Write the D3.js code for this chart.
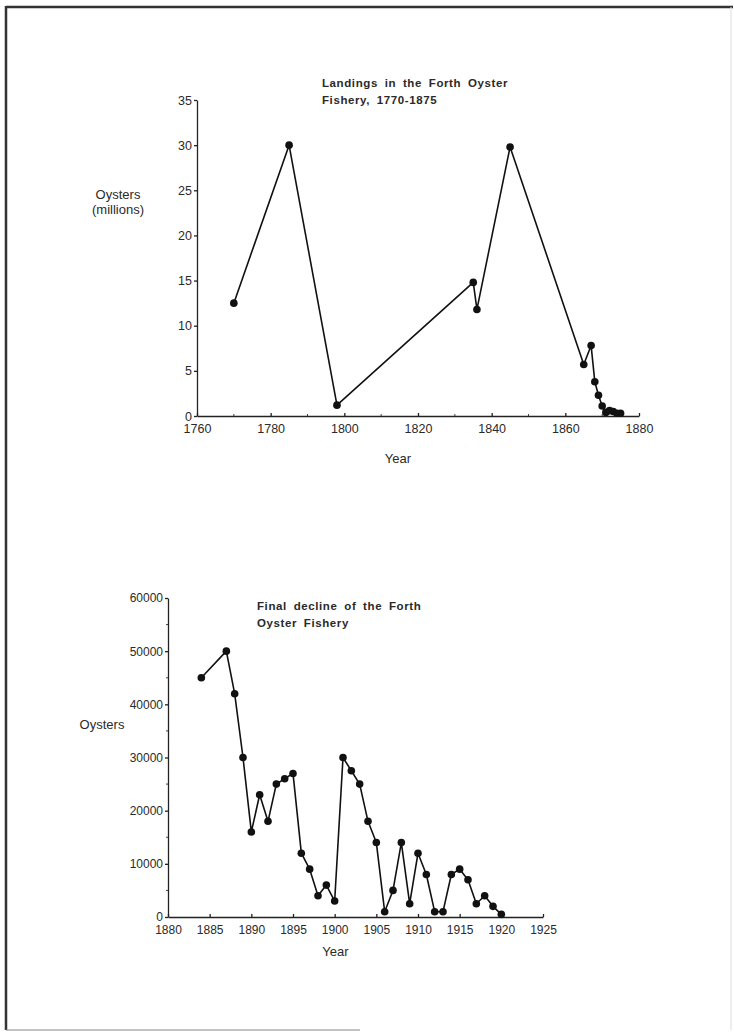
<!DOCTYPE html>
<html lang="en">
  <head>
    <meta charset="UTF-8" />
    <title>Forth Oyster Fishery</title>
    <script src="https://d3js.org/d3.v7.min.js"></script>
    <style>
      body {
        margin: 0;
        background: #fff;
      }
      svg text {
        font-family: "Liberation Sans", Arial, sans-serif;
        fill: #2a2a2a;
      }
      .title {
        font-weight: bold;
        font-size: 11.5px;
        letter-spacing: 0.6px;
        word-spacing: 3px;
      }
      .axis path,
      .axis line {
        stroke: #222;
        stroke-width: 1.3px;
      }
    </style>
  </head>
  <body>
    <script>
      // Landings 1770-1875 (millions of oysters)
      const yearsA = [1770, 1785, 1798, 1835, 1836, 1845, 1865, 1867, 1868, 1869, 1870, 1871, 1872, 1873, 1874, 1875];
      const valuesA = [12.5, 30, 1.2, 14.8, 11.8, 29.8, 5.7, 7.8, 3.8, 2.3, 1.1, 0.4, 0.6, 0.5, 0.3, 0.3];
      const xTicksA = [1760, 1780, 1800, 1820, 1840, 1860, 1880];
      const yTicksA = [0, 5, 10, 15, 20, 25, 30, 35];

      // Final decline 1884-1920 (oysters)
      const yearsB = [1884, 1887, 1888, 1889, 1890, 1891, 1892, 1893, 1894, 1895, 1896, 1897, 1898, 1899, 1900,
        1901, 1902, 1903, 1904, 1905, 1906, 1907, 1908, 1909, 1910, 1911, 1912, 1913, 1914, 1915, 1916, 1917, 1918, 1919, 1920];
      const valuesB = [45000, 50000, 42000, 30000, 16000, 23000, 18000, 25000, 26000, 27000, 12000, 9000, 4000, 6000, 3000,
        30000, 27500, 25000, 18000, 14000, 1000, 5000, 14000, 2500, 12000, 8000, 1000, 1000, 8000, 9000, 7000, 2500, 4000, 2000, 500];
      const xTicksB = [1880, 1885, 1890, 1895, 1900, 1905, 1910, 1915, 1920, 1925];
      const yTicksB = [0, 10000, 20000, 30000, 40000, 50000, 60000];

      const svg = d3.select("body").append("svg")
        .attr("width", 734)
        .attr("height", 1032);

      // scanned page border
      const frame = svg.append("g").attr("fill", "none");
      frame.append("line").attr("x1", 6).attr("y1", 7).attr("x2", 733).attr("y2", 7)
        .attr("stroke", "#333").attr("stroke-width", 2.5);
      frame.append("line").attr("x1", 6).attr("y1", 6).attr("x2", 6).attr("y2", 1030)
        .attr("stroke", "#333").attr("stroke-width", 2.5);
      frame.append("line").attr("x1", 6).attr("y1", 1030).attr("x2", 360).attr("y2", 1030)
        .attr("stroke", "#888").attr("stroke-width", 1.2);
      frame.append("line").attr("x1", 731).attr("y1", 7).attr("x2", 731).attr("y2", 1030)
        .attr("stroke", "#ddd").attr("stroke-width", 1);

      function drawChart(cfg) {
        const g = svg.append("g");
        const x = d3.scaleLinear().domain(cfg.xDomain).range(cfg.xRange);
        const y = d3.scaleLinear().domain(cfg.yDomain).range(cfg.yRange);

        // minor ticks
        g.append("g").selectAll("line")
          .data(cfg.xMinor)
          .join("line")
          .attr("x1", d => x(d)).attr("x2", d => x(d))
          .attr("y1", cfg.yRange[0]).attr("y2", cfg.yRange[0] - 2)
          .attr("stroke", "#444");
        g.append("g").selectAll("line")
          .data(cfg.yMinor)
          .join("line")
          .attr("x1", cfg.xRange[0]).attr("x2", cfg.xRange[0] - 2)
          .attr("y1", d => y(d)).attr("y2", d => y(d))
          .attr("stroke", "#444");

        g.append("g")
          .attr("class", "axis")
          .attr("transform", `translate(0,${cfg.yRange[0]})`)
          .call(d3.axisBottom(x).tickValues(cfg.xTicks).tickFormat(d3.format("d"))
            .tickSizeInner(-3).tickSizeOuter(0).tickPadding(8))
          .call(a => a.selectAll("text").style("font-size", cfg.tickFont))
          .call(a => a.selectAll("text").attr("fill", "#2a2a2a"));

        g.append("g")
          .attr("class", "axis")
          .attr("transform", `translate(${cfg.xRange[0]},0)`)
          .call(d3.axisLeft(y).tickValues(cfg.yTicks).tickFormat(d3.format("d"))
            .tickSizeInner(3).tickSizeOuter(0).tickPadding(2))
          .call(a => a.selectAll("text").style("font-size", cfg.tickFont))
          .call(a => a.selectAll("text").attr("fill", "#2a2a2a"));

        const pts = cfg.years.map((yr, i) => [yr, cfg.values[i]]);

        g.append("path")
          .datum(pts)
          .attr("fill", "none")
          .attr("stroke", "#111")
          .attr("stroke-width", 1.6)
          .attr("stroke-linejoin", "round")
          .attr("d", d3.line().x(d => x(d[0])).y(d => y(d[1])));

        g.append("g").selectAll("circle")
          .data(pts)
          .join("circle")
          .attr("cx", d => x(d[0]))
          .attr("cy", d => y(d[1]))
          .attr("r", 3.8)
          .attr("fill", "#111");

        const t = g.append("text").attr("class", "title")
          .attr("x", cfg.titleX).attr("y", cfg.titleY);
        cfg.title.forEach((s, i) => {
          t.append("tspan").attr("x", cfg.titleX).attr("dy", i ? 17 : 0).text(s);
        });

        const yl = g.append("text")
          .attr("x", cfg.yLabelX).attr("y", cfg.yLabelY)
          .attr("text-anchor", "middle")
          .style("font-size", "13px");
        cfg.yLabel.forEach((s, i) => {
          yl.append("tspan").attr("x", cfg.yLabelX).attr("dy", i ? 15 : 0).text(s);
        });

        g.append("text")
          .attr("x", (cfg.xRange[0] + cfg.xRange[1]) / 2 - 20)
          .attr("y", cfg.xLabelY)
          .attr("text-anchor", "middle")
          .style("font-size", "13px")
          .text("Year");
      }

      drawChart({
        years: yearsA, values: valuesA,
        xDomain: [1760, 1880], xRange: [197, 639],
        yDomain: [0, 35], yRange: [416, 100],
        xTicks: xTicksA, yTicks: yTicksA,
        xMinor: d3.range(1770, 1880, 20), yMinor: [],
        tickFont: "12.5px",
        title: ["Landings in the Forth Oyster", "Fishery,  1770-1875"],
        titleX: 322, titleY: 87,
        yLabel: ["Oysters", "(millions)"], yLabelX: 118, yLabelY: 199,
        xLabelY: 463
      });

      drawChart({
        years: yearsB, values: valuesB,
        xDomain: [1880, 1925], xRange: [168, 543],
        yDomain: [0, 60000], yRange: [917, 598],
        xTicks: xTicksB, yTicks: yTicksB,
        xMinor: [], yMinor: d3.range(5000, 60000, 10000),
        tickFont: "12px",
        title: ["Final decline of the Forth", "Oyster  Fishery"],
        titleX: 257, titleY: 610,
        yLabel: ["Oysters"], yLabelX: 102, yLabelY: 729,
        xLabelY: 956
      });
    </script>
  </body>
</html>
